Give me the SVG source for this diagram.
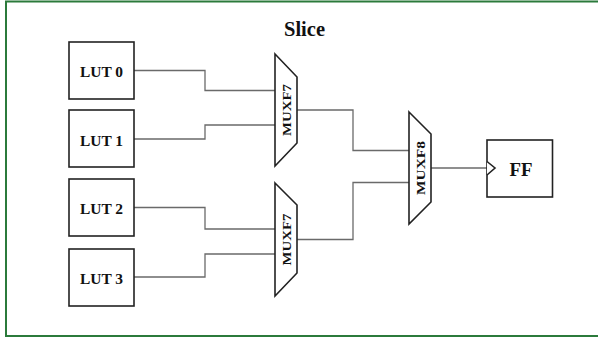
<svg xmlns="http://www.w3.org/2000/svg" width="598" height="340" viewBox="0 0 598 340">
  <style>
    .frame { fill: none; stroke: #2b7a3b; stroke-width: 2; }
    .box { fill: #fff; stroke: #222; stroke-width: 1.6; }
    .wire { fill: none; stroke: #6a6a6a; stroke-width: 1.3; }
    .lbl { font-family: "Liberation Serif", "Times New Roman", serif; font-weight: bold; fill: #111; text-anchor: middle; }
  </style>

  <!-- slice outline: top, left and bottom edges -->
  <path class="frame" d="M598 1.5 H6 V336 H598"/>
  <text class="lbl" x="304.5" y="36" font-size="20.5">Slice</text>

  <!-- connectors -->
  <g id="connectors">
    <path class="wire" d="M134 70.5 H205 V90.5 H275"/>
    <path class="wire" d="M134 139 H205 V125 H275"/>
    <path class="wire" d="M134 207.5 H205 V229 H275"/>
    <path class="wire" d="M134 277 H205 V254 H275"/>
    <path class="wire" d="M297 110 H353 V150.5 H409"/>
    <path class="wire" d="M297 239.5 H353 V182.5 H409"/>
    <path class="wire" d="M431 168 H487"/>
  </g>

  <!-- look-up tables -->
  <g id="lut0">
    <rect class="box" x="69" y="42" width="65" height="57"/>
    <text class="lbl" x="101.5" y="76.5" font-size="15" textLength="43" lengthAdjust="spacingAndGlyphs">LUT 0</text>
  </g>
  <g id="lut1">
    <rect class="box" x="69" y="110" width="65" height="57"/>
    <text class="lbl" x="101.5" y="145.5" font-size="15" textLength="43" lengthAdjust="spacingAndGlyphs">LUT 1</text>
  </g>
  <g id="lut2">
    <rect class="box" x="69" y="179" width="65" height="57"/>
    <text class="lbl" x="101.5" y="213.5" font-size="15" textLength="43" lengthAdjust="spacingAndGlyphs">LUT 2</text>
  </g>
  <g id="lut3">
    <rect class="box" x="69" y="249" width="65" height="57"/>
    <text class="lbl" x="101.5" y="283.5" font-size="15" textLength="43" lengthAdjust="spacingAndGlyphs">LUT 3</text>
  </g>

  <!-- multiplexers -->
  <g id="muxf7a">
    <path class="box" d="M275 54 L297 77 V143 L275 166 Z"/>
    <text class="lbl" transform="translate(291 110) rotate(-90)" font-size="13" textLength="52" lengthAdjust="spacingAndGlyphs">MUXF7</text>
  </g>
  <g id="muxf7b">
    <path class="box" d="M275 183 L297 205 V273 L275 296 Z"/>
    <text class="lbl" transform="translate(291 239.5) rotate(-90)" font-size="13" textLength="52" lengthAdjust="spacingAndGlyphs">MUXF7</text>
  </g>
  <g id="muxf8">
    <path class="box" d="M409 112 L431 134 V202 L409 224 Z"/>
    <text class="lbl" transform="translate(425 168) rotate(-90)" font-size="13" textLength="54" lengthAdjust="spacingAndGlyphs">MUXF8</text>
  </g>

  <!-- flip-flop -->
  <g id="ff">
    <rect class="box" x="487" y="140" width="65.5" height="57"/>
    <polyline class="box" points="487,161.5 495,168 487,175" fill="none"/>
    <text class="lbl" x="521" y="175.5" font-size="18" textLength="23" lengthAdjust="spacingAndGlyphs">FF</text>
  </g>
</svg>
